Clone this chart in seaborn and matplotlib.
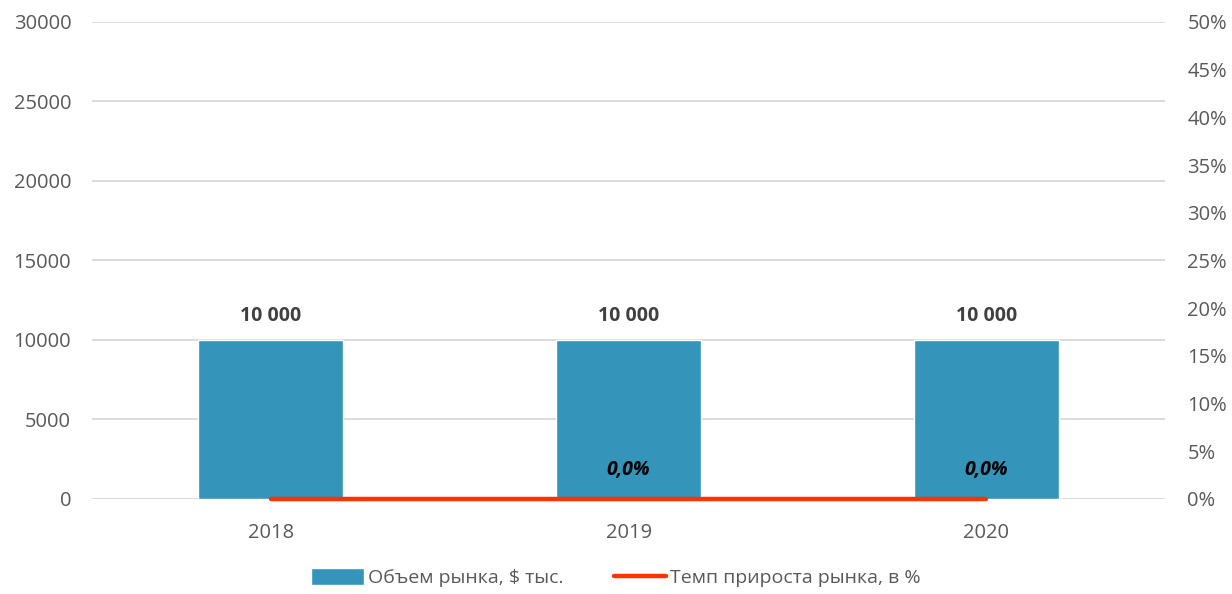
import matplotlib
matplotlib.use('Agg')
import matplotlib.pyplot as plt
import seaborn as sns
import pandas as pd
from matplotlib.patches import Patch
from matplotlib.lines import Line2D

years = ['2018', '2019', '2020']
market_volume = [10000, 10000, 10000]
growth_rate = [0.0, 0.0, 0.0]
growth_labels = ['', '0,0%', '0,0%']

bar_color = '#3494BA'
line_color = '#FF3300'
text_color = '#595959'

sns.set_style('white')
plt.rcParams['font.family'] = ['Open Sans', 'DejaVu Sans']

df = pd.DataFrame({'year': years, 'volume': market_volume, 'growth': growth_rate})

fig = plt.figure(figsize=(12.32, 5.94), dpi=100)
ax = fig.add_axes([0.0747, 0.16, 0.871, 0.803])

sns.barplot(data=df, x='year', y='volume', color=bar_color, width=0.405,
            saturation=1, ax=ax, zorder=2)
ax.set_xlim(-0.5, 2.5)
ax.set_ylim(0, 30000)
ax.set_yticks(range(0, 30001, 5000))
ax.yaxis.grid(True, color='#D9D9D9', linewidth=1.3, zorder=0)
ax.set_axisbelow(True)
ax.set_xlabel('')
ax.set_ylabel('')
for s in ax.spines.values():
    s.set_visible(False)
ax.tick_params(axis='both', length=0, labelsize=14.5, labelcolor=text_color)
ax.tick_params(axis='x', pad=17)
ax.tick_params(axis='y', pad=15)

for i, v in enumerate(market_volume):
    ax.annotate(f'{v:,}'.replace(',', ' '), (i, v), xytext=(0, 10),
                textcoords='offset points', ha='center', va='bottom',
                fontsize=14, fontweight='bold', color='#404040')

ax2 = ax.twinx()
ax2.plot(range(len(years)), growth_rate, color=line_color, linewidth=3.2,
         solid_capstyle='round', zorder=3, clip_on=False)
ax2.set_ylim(0, 0.5)
ax2.set_yticks([i * 0.05 for i in range(11)])
ax2.set_yticklabels([f'{i * 5}%' for i in range(11)])
for s in ax2.spines.values():
    s.set_visible(False)
ax2.tick_params(axis='y', length=0, labelsize=14.5, labelcolor=text_color, pad=16)

for i, lab in enumerate(growth_labels):
    if lab:
        ax2.annotate(lab, (i, growth_rate[i]), xytext=(0, 14),
                     textcoords='offset points', ha='center', va='bottom',
                     fontsize=14, fontweight='bold', fontstyle='italic',
                     color='black')

handles = [Patch(facecolor=bar_color, label='Объем рынка, $ тыс.'),
           Line2D([0], [0], color=line_color, linewidth=3.2,
                  solid_capstyle='round', label='Темп прироста рынка, в %')]
fig.legend(handles=handles, loc='lower center', bbox_to_anchor=(0.5, -0.018),
           ncol=2, frameon=False, fontsize=14, labelcolor=text_color,
           handlelength=2.7, handleheight=0.9, handletextpad=0.2,
           columnspacing=2.6)

fig.savefig('out.png', dpi=100)
